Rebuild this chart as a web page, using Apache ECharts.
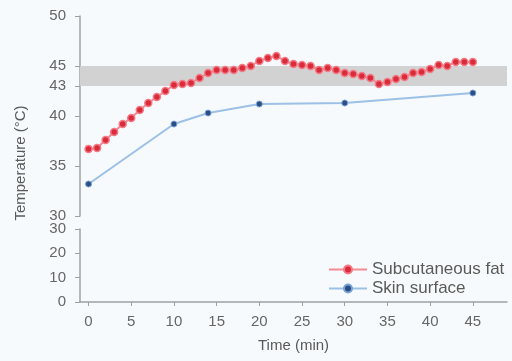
<!DOCTYPE html>
<html><head><meta charset="utf-8">
<script src="https://cdn.jsdelivr.net/npm/echarts@6/dist/echarts.min.js"></script>
<style>html,body{margin:0;padding:0;background:#f7fafc;}#c{width:512px;height:361px;}</style>
</head><body><div id="c"></div>
<script>
var fatTimes = [0,1,2,3,4,5,6,7,8,9,10,11,12,13,14,15,16,17,18,19,20,21,22,23,24,25,26,27,28,29,30,31,32,33,34,35,36,37,38,39,40,41,42,43,44,45];
var fatValues = [36.7,36.8,37.6,38.4,39.2,39.8,40.6,41.3,41.9,42.5,43.1,43.2,43.3,43.8,44.3,44.6,44.6,44.6,44.8,45.0,45.5,45.8,46.0,45.5,45.2,45.1,45.0,44.6,44.8,44.6,44.3,44.2,44.0,43.8,43.2,43.4,43.7,43.9,44.3,44.4,44.7,45.1,45.0,45.4,45.4,45.4];
var skinTimes = [0,10,14,20,30,45];
var skinValues = [33.2,39.2,40.3,41.2,41.3,42.3];
var xTicks = [0,5,10,15,20,25,30,35,40,45];
var upperYTicks = [30,35,40,43,45,50];
var lowerYTicks = [0,10,20,30];
var band = [43,45];

var fatData = fatTimes.map(function(t,i){return [t,fatValues[i]];});
var skinData = skinTimes.map(function(t,i){return [t,skinValues[i]];});
var FONT = 'Liberation Sans, Arial, sans-serif';
var lbl = {color:'#666666', fontSize:15, fontFamily:FONT};

var chart = echarts.init(document.getElementById('c'));
chart.setOption({
  backgroundColor:'#f7fafc',
  animation:false,
  grid:[
    {left:80, right:5, top:16, height:200},
    {left:80, right:5, top:229, height:73}
  ],
  xAxis:[
    {gridIndex:0, type:'value', min:-1, max:49, show:false},
    {gridIndex:1, type:'value', min:-1, max:49,
     axisLine:{onZero:false, lineStyle:{color:'#a0a0a0', width:1.5}}, splitLine:{show:false},
     axisTick:{customValues:xTicks, length:4, lineStyle:{color:'#a0a0a0'}},
     axisLabel:Object.assign({customValues:xTicks, margin:12}, lbl),
     name:'Time (min)', nameLocation:'middle', nameGap:36,
     nameTextStyle:{color:'#5a5a5a', fontSize:15, fontFamily:FONT}}
  ],
  yAxis:[
    {gridIndex:0, type:'value', min:30, max:50,
     axisLine:{show:true, onZero:false, lineStyle:{color:'#a0a0a0', width:1.5}}, splitLine:{show:false},
     axisTick:{show:true, customValues:upperYTicks, length:5, lineStyle:{color:'#a0a0a0'}},
     axisLabel:Object.assign({customValues:upperYTicks, margin:14}, lbl)},
    {gridIndex:1, type:'value', min:0, max:30, interval:10,
     axisLine:{show:true, onZero:false, lineStyle:{color:'#a0a0a0', width:1.5}}, splitLine:{show:false},
     axisTick:{show:true, length:5, lineStyle:{color:'#a0a0a0'}},
     axisLabel:Object.assign({margin:14}, lbl)}
  ],
  legend:{
    orient:'vertical', left:323, top:256, itemWidth:38, itemHeight:10, itemGap:2,
    textStyle:{color:'#5a5a5a', fontSize:17, fontFamily:FONT},
    data:['Subcutaneous fat','Skin surface']
  },
  graphic:[
    {type:'text', x:21, y:163, rotation:Math.PI/2,
     style:{text:'Temperature (°C)', fill:'#5a5a5a', fontSize:15, fontFamily:FONT, align:'center', verticalAlign:'middle'}}
  ],
  series:[
    {name:'Subcutaneous fat', type:'line', xAxisIndex:0, yAxisIndex:0, data:fatData,
     symbol:'circle', symbolSize:7, z:3,
     lineStyle:{color:'#f58a96', width:2},
     itemStyle:{color:'#d92b3a', borderColor:'#f47a86', borderWidth:1.5},
     markArea:{silent:true, itemStyle:{color:'#d2d2d2'}, data:[[{yAxis:band[0]},{yAxis:band[1]}]]}},
    {name:'Skin surface', type:'line', xAxisIndex:0, yAxisIndex:0, data:skinData,
     symbol:'circle', symbolSize:6, z:3,
     lineStyle:{color:'#9cc0e6', width:2},
     itemStyle:{color:'#2b4f85', borderColor:'#7aa3d6', borderWidth:1}}
  ]
});
</script></body></html>
